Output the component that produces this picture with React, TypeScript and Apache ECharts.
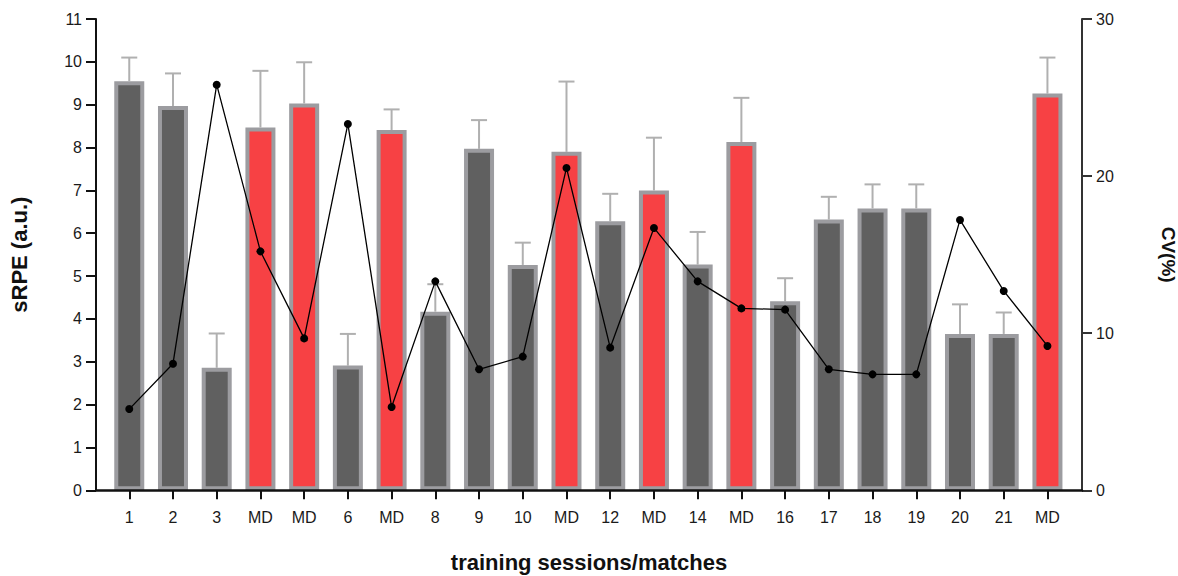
import React, { useEffect, useRef } from "react";
import * as echarts from "echarts";

const categories = ["1", "2", "3", "MD", "MD", "6", "MD", "8", "9", "10", "MD", "12", "MD", "14", "MD", "16", "17", "18", "19", "20", "21", "MD"];
const srpeMean = [9.55, 8.97, 2.86, 8.47, 9.03, 2.91, 8.41, 4.17, 7.97, 5.26, 7.9, 6.28, 7.0, 5.27, 8.13, 4.41, 6.32, 6.58, 6.58, 3.65, 3.65, 9.26];
const srpeSD = [0.55, 0.76, 0.8, 1.32, 0.96, 0.74, 0.48, 0.64, 0.67, 0.52, 1.64, 0.64, 1.23, 0.76, 1.03, 0.54, 0.53, 0.56, 0.56, 0.69, 0.5, 0.84];
const cvValues = [5.17, 8.06, 25.82, 15.21, 9.67, 23.32, 5.3, 13.3, 7.7, 8.51, 20.52, 9.08, 16.7, 13.3, 11.58, 11.5, 7.7, 7.38, 7.38, 17.21, 12.69, 9.19];
const leftTicks = { min: 0, max: 11, interval: 1 };
const rightTicks = { min: 0, max: 30, interval: 10 };

const NARROW = "'Liberation Sans Narrow', 'Arial Narrow', 'Liberation Sans', Arial, sans-serif";
const SANS = "'Liberation Sans', Arial, sans-serif";

export default function App() {
  const ref = useRef<HTMLDivElement>(null);
  useEffect(() => {
    if (!ref.current) return;
    const chart = echarts.init(ref.current, undefined, { renderer: "svg" });
    const top = 19;
    const bottom = 85.7;
    const barData = srpeMean.map((v, i) => ({
      value: v,
      itemStyle: {
        color: categories[i] === "MD" ? "#f74144" : "#606060",
        borderColor: "#9c9ca0",
        borderWidth: 4,
      },
    }));
    const errData = srpeMean.map((v, i) => [i, v, v + srpeSD[i]]);
    const option: any = {
      animation: false,
      backgroundColor: "#ffffff",
      grid: [
        { left: 96, right: 96, top, bottom, containLabel: false, outerBoundsMode: "none" },
        { left: 107.4, right: 108.7, top, bottom, containLabel: false, outerBoundsMode: "none" },
      ],
      xAxis: [
        {
          gridIndex: 0,
          type: "value",
          min: 0,
          max: 1,
          z: 20,
          axisLine: { show: true, lineStyle: { color: "#111", width: 2.5 } },
          axisTick: { show: false },
          axisLabel: { show: false },
          splitLine: { show: false },
          name: "training sessions/matches",
          nameLocation: "middle",
          nameGap: 61,
          nameTextStyle: { fontFamily: SANS, fontWeight: "bold", fontSize: 22, color: "#111" },
        },
        {
          gridIndex: 1,
          type: "category",
          data: categories,
          axisLine: { show: false },
          axisTick: { show: true, alignWithLabel: true, length: 9, lineStyle: { color: "#111", width: 2 } },
          axisLabel: { interval: 0, margin: 19, fontFamily: NARROW, fontSize: 16, color: "#1a1a1a" },
          splitLine: { show: false },
        },
      ],
      yAxis: [
        {
          gridIndex: 0,
          type: "value",
          position: "left",
          ...leftTicks,
          axisLine: { show: true, lineStyle: { color: "#111", width: 2 } },
          axisTick: { show: true, length: 10, lineStyle: { color: "#111", width: 2 } },
          axisLabel: { margin: 14, fontFamily: NARROW, fontSize: 16, color: "#1a1a1a" },
          splitLine: { show: false },
          name: "sRPE (a.u.)",
          nameLocation: "middle",
          nameRotate: 90,
          nameGap: 66,
          nameTextStyle: { fontFamily: SANS, fontWeight: "bold", fontSize: 22, color: "#111" },
        },
        {
          gridIndex: 0,
          type: "value",
          position: "right",
          ...rightTicks,
          axisLine: { show: true, lineStyle: { color: "#333", width: 2 } },
          axisTick: { show: true, length: 10, lineStyle: { color: "#333", width: 2 } },
          axisLabel: { margin: 14, fontFamily: NARROW, fontSize: 16, color: "#1a1a1a" },
          splitLine: { show: false },
          name: "CV(%)",
          nameLocation: "middle",
          nameRotate: -90,
          nameGap: 77,
          nameTextStyle: { fontFamily: SANS, fontWeight: "bold", fontSize: 19, color: "#111" },
        },
        { gridIndex: 1, type: "value", ...leftTicks, show: false },
        { gridIndex: 1, type: "value", ...rightTicks, show: false },
      ],
      series: [
        {
          type: "custom",
          xAxisIndex: 1,
          yAxisIndex: 2,
          z: 1,
          encode: { x: 0, y: [1, 2] },
          data: errData,
          renderItem: (params: any, api: any) => {
            const x = api.value(0);
            const p0 = api.coord([x, api.value(1)]);
            const p1 = api.coord([x, api.value(2)]);
            const st = { stroke: "#b0b0b0", lineWidth: 2 };
            return {
              type: "group",
              children: [
                { type: "line", shape: { x1: p0[0], y1: p0[1], x2: p1[0], y2: p1[1] }, style: st },
                { type: "line", shape: { x1: p1[0] - 8, y1: p1[1], x2: p1[0] + 8, y2: p1[1] }, style: st },
              ],
            };
          },
        },
        {
          type: "bar",
          xAxisIndex: 1,
          yAxisIndex: 2,
          z: 2,
          barWidth: 30,
          data: barData,
        },
        {
          type: "line",
          xAxisIndex: 1,
          yAxisIndex: 3,
          z: 10,
          data: cvValues,
          symbol: "circle",
          symbolSize: 8,
          itemStyle: { color: "#000" },
          lineStyle: { color: "#000", width: 1.3 },
        },
      ],
    };
    chart.setOption(option);
    return () => chart.dispose();
  }, []);
  return (
    <div
      ref={ref}
      style={{ position: "fixed", left: 0, top: 0, width: 1178, height: 576, background: "#fff" }}
    />
  );
}
